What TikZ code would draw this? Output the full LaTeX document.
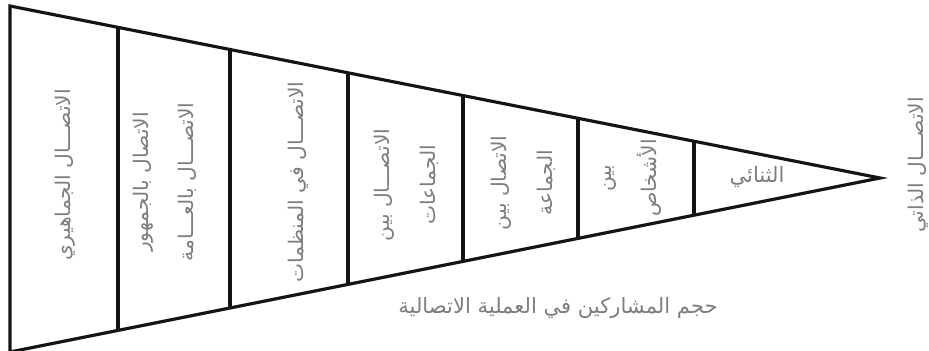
\documentclass[tikz,border=0pt]{standalone}
\usepackage{fontspec}
\usepackage{tikz}
\usetikzlibrary{positioning, calc}
\TeXXeTstate=1
\newfontfamily\arabicfont[Script=Arabic]{DejaVu Sans}
\definecolor{mydark}{RGB}{20,20,20}
\definecolor{mygray}{RGB}{125,125,125}
\tikzset{
  edge/.style={line width=1.8pt, color=mydark, line join=miter},
  divider/.style={line width=1.8pt, color=mydark},
  vlabel/.style={rotate=90, color=mygray, align=center, inner sep=0pt,
    font=\arabicfont\fontsize{11.5}{26}\selectfont},
  hlabel/.style={color=mygray, inner sep=0pt,
    font=\arabicfont\fontsize{12}{14}\selectfont}
}

\begin{document}
\begin{tikzpicture}[x=0.02cm, y=-0.02cm]
  \useasboundingbox (0,0) rectangle (929,351);
  \coordinate (tl) at (10,6);
  \coordinate (bl) at (10,352);
  \coordinate (apex) at (880,178);

  % Dividers inside the cone
  \begin{scope}
    \clip (tl) -- (apex) -- (bl) -- cycle;
    \foreach \x in {118,230,348,463,578,694}
      \draw[divider] (\x,0) -- (\x,351);
  \end{scope}

  % Cone outline
  \draw[edge] (tl) -- (apex) -- (bl) -- cycle;

  % Labels
  \node[vlabel] (mass) at (65,175) {\beginR الاتصـــال الجماهيري\endR};
  \node[vlabel] (public) at (165,182) {\beginR الاتصال بالجمهور\endR\\\beginR الاتصـــال بالعـــامة\endR};
  \node[vlabel] (org) at (298,182) {\beginR الاتصـــال في المنظمات\endR};
  \node[vlabel] (groups) at (406,185) {\beginR الاتصـــال بين\endR\\\beginR الجماعات\endR};
  \node[vlabel] (group) at (523,183) {\beginR الاتصال بين\endR\\\beginR الجماعة\endR};
  \node[vlabel] (persons) at (633,178) {\beginR بين\endR\\\beginR الأشخاص\endR};
  \node[hlabel] (dyad) at (757,177) {\beginR الثنائي\endR};
  \node[vlabel] (self) at (918,165) {\beginR الاتصـــال الذاتي\endR};

  \node[hlabel] (size) at (558,308) {\beginR حجم المشاركين في العملية الاتصالية\endR};
\end{tikzpicture}
\end{document}
